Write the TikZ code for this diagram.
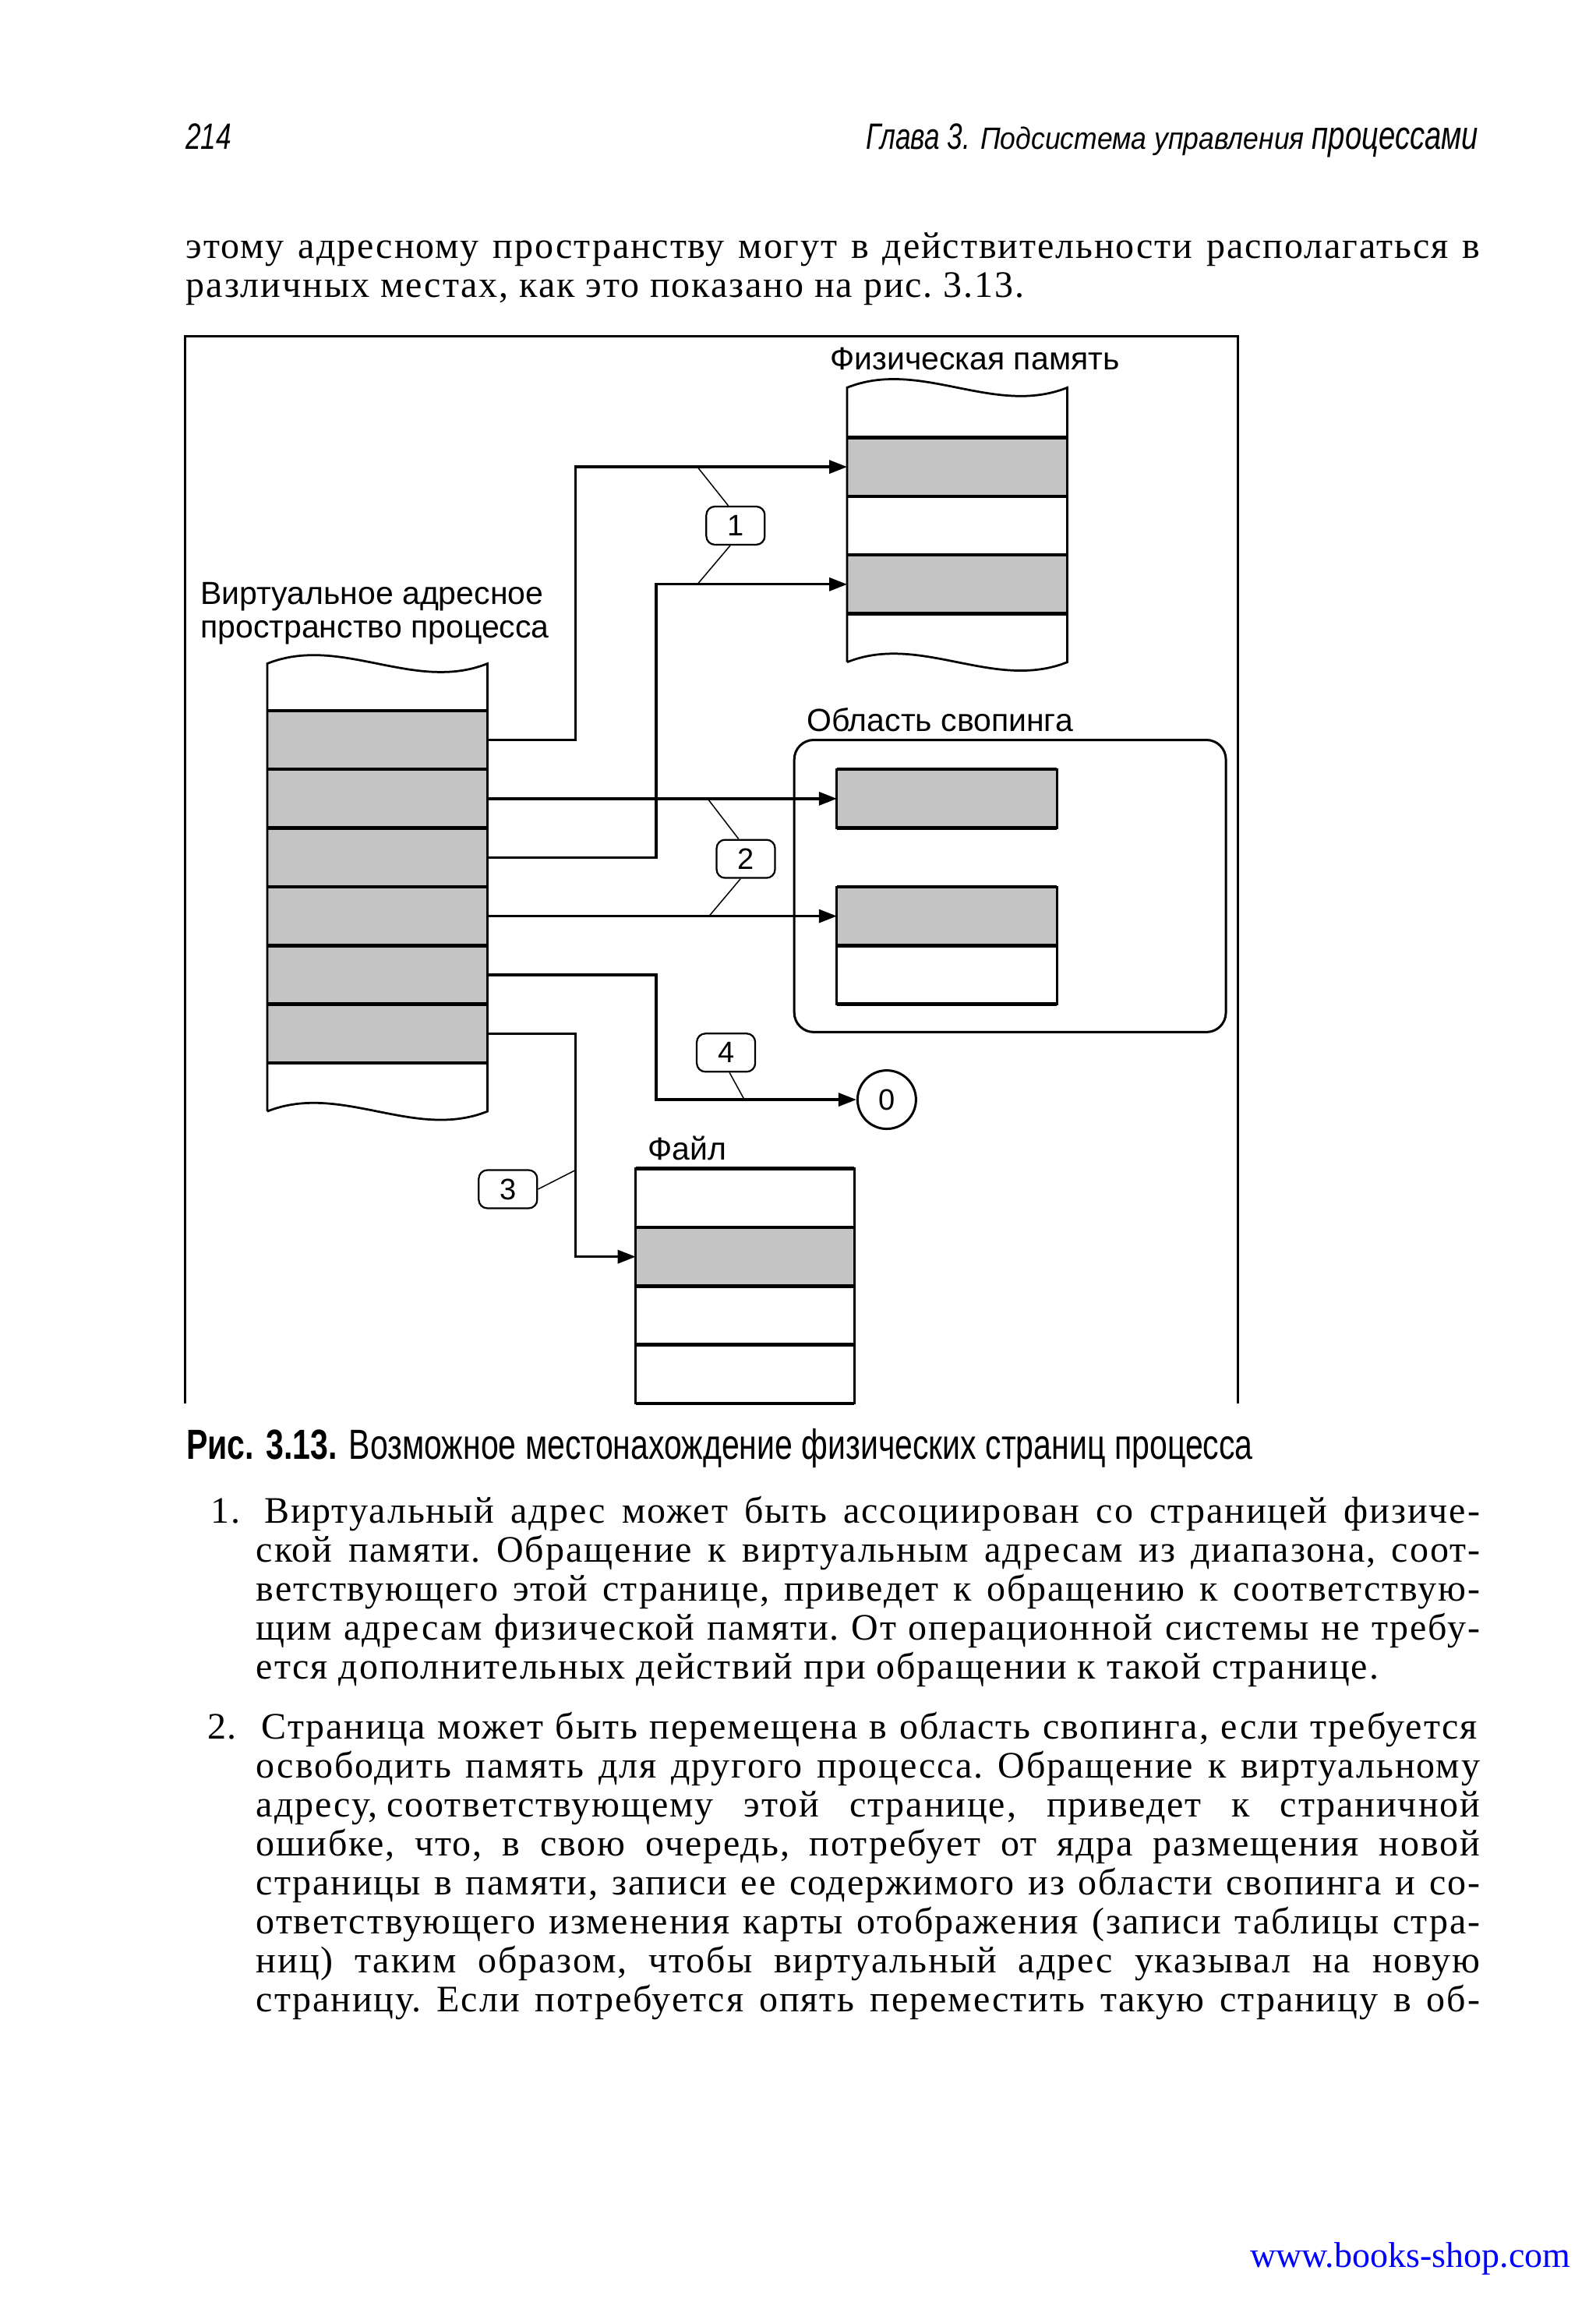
\documentclass[tikz,border=0pt]{standalone}
\usepackage{fontspec}
\setmainfont{Liberation Serif}
\newfontfamily\bodyserif{Liberation Serif}[LetterSpace=4]
\newfontfamily\figsans{Liberation Sans}
\newfontfamily\capsans{Liberation Sans}[FakeStretch=0.76]
\newfontfamily\headsans{Liberation Sans}[FakeStretch=0.75]
\newfontfamily\headsmall{Liberation Sans}[FakeStretch=0.9]
\usepackage{xcolor}
\usetikzlibrary{arrows.meta,positioning,calc}
\definecolor{cellgray}{gray}{0.77}
\definecolor{urlblue}{rgb}{0,0,1}
\newlength\fullw \setlength\fullw{332pt}
\newlength\itemw \setlength\itemw{314.1pt}
\newlength\firstw \setlength\firstw{312pt}
\tikzset{
  frameline/.style={line width=0.6pt},
  colline/.style={line width=0.55pt},
  rowline/.style={line width=0.9pt},
  link/.style={line width=0.65pt,-{Triangle[length=4.6pt,width=3.4pt]}},
  leader/.style={line width=0.3pt},
  callout/.style={draw,line width=0.45pt,rounded corners=2.2pt,minimum width=15pt,
                  minimum height=9.8pt,inner sep=0pt,font=\figsans\fontsize{7.6}{8}\selectfont},
  zero/.style={draw,circle,line width=0.6pt,minimum size=15pt,inner sep=0pt,
               font=\figsans\fontsize{7.6}{8}\selectfont},
  figtext/.style={inner sep=0pt,font=\figsans\fontsize{8.2}{8.7}\selectfont},
  bodytext/.style={anchor=base west,inner sep=0pt,font=\bodyserif\frenchspacing\fontsize{9.6}{10}\selectfont},
  headtext/.style={inner sep=0pt,font=\headsans\itshape\fontsize{9.4}{10}\selectfont},
}
\begin{document}
\begin{tikzpicture}[x=0.3768pt,y=-0.3768pt,>=Stealth]
  \fill[white] (0,0) rectangle (1087,1568);
  % running head
  \node[headtext,anchor=base west] (pagenum) at (126,101.4) {214};
  \node[headtext,anchor=base east] (runhead) at (1007.5,101.4)
    {Глава 3. {\headsmall\fontsize{7.9}{8}\selectfont Подсистема управления} {\fontsize{10.2}{10}\selectfont процессами}};
  \node[bodytext] (para1) at (126.3,176)
    {\makebox[\fullw][s]{этому адресному пространству могут в действительности располагаться в}};
  \node[bodytext] (para2) at (126.3,202.5) {различных местах, как это показано на рис.~3.13.};

  % figure frame
  \draw[frameline] (126,956) -- (126,229) -- (843,229) -- (843,956);

  % virtual address space
  \fill[cellgray] (182,484) rectangle (332,724);
  \draw[colline] (182,757) -- (182,452) .. controls (232,432) and (282,472) .. (332,452)
    -- (332,757) .. controls (282,777) and (232,737) .. (182,757);
  \foreach \y in {484,524,...,724} \draw[rowline] (182,\y) -- (332,\y);
  \node[figtext,anchor=south west,align=left,text depth=0pt] (vlabel) at (136,435)
    {Виртуальное адресное\\пространство процесса};

  % physical memory
  \fill[cellgray] (577,298) rectangle (727,338);
  \fill[cellgray] (577,378) rectangle (727,418);
  \draw[colline] (577,451) -- (577,264) .. controls (627,244) and (677,284) .. (727,264)
    -- (727,451) .. controls (677,471) and (627,431) .. (577,451);
  \foreach \y in {298,338,378,418} \draw[rowline] (577,\y) -- (727,\y);
  \node[figtext,anchor=base] (plabel) at (664,252) {Физическая память};

  % swap area
  \draw[line width=0.6pt,rounded corners=5pt] (541,504) rectangle (835,703);
  \node[figtext,anchor=base west] (slabel) at (549,498) {Область свопинга};
  \fill[cellgray] (570,524) rectangle (720,564);
  \draw[colline] (570,524) rectangle (720,564);
  \fill[cellgray] (570,604) rectangle (720,644);
  \draw[colline] (570,604) rectangle (720,684);
  \foreach \y in {524,564,604,644,684} \draw[rowline] (570,\y) -- (720,\y);

  % file
  \fill[cellgray] (433,836) rectangle (582,876);
  \draw[colline] (433,796) rectangle (582,956);
  \foreach \y in {796,836,876,916,956} \draw[rowline] (433,\y) -- (582,\y);
  \node[figtext,anchor=base west] (flabel) at (441,790) {Файл};

  % pages and targets
  \foreach \i in {1,...,6} \coordinate (v\i) at (332,464+40*\i);
  \coordinate (p1) at (577,318);
  \coordinate (p2) at (577,398);
  \coordinate (s1) at (570,544);
  \coordinate (s2) at (570,624);
  \coordinate (f1) at (433,856);
  \coordinate (railA) at (392,0);
  \coordinate (railB) at (447,0);
  \node[zero] (zero) at (604,749) {0};

  \draw[link] (v1) -- (v1 -| railA) |- (p1);
  \draw[link] (v3) -- (v3 -| railB) |- (p2);
  \draw[link] (v2) -- (s1);
  \draw[link] (v4) -- (s2);
  \draw[link] (v5) -- (v5 -| railB) |- (zero.west);
  \draw[link] (v6) -- (v6 -| railA) |- (f1);

  % callouts
  \node[callout] (c1) at (501,358) {1};
  \node[callout] (c2) at (508,585) {2};
  \node[callout] (c4) at (494.5,717) {4};
  \node[callout] (c3) at (346,810) {3};
  \coordinate (l1a) at (475,318);
  \coordinate (l1b) at (475,398);
  \coordinate (l2a) at (482,544);
  \coordinate (l2b) at (483,624);
  \coordinate (l4) at (507,749);
  \coordinate (l3) at (392,797);
  \draw[leader] (c1.110) -- (l1a);
  \draw[leader] (c1.255) -- (l1b);
  \draw[leader] (c2.110) -- (l2a);
  \draw[leader] (c2.255) -- (l2b);
  \draw[leader] (c4.280) -- (l4);
  \draw[leader] (c3.east) -- (l3);

  % caption
  \node[anchor=base west,inner sep=0pt,font=\capsans\fontsize{10.8}{12}\selectfont] (caption) at (126.5,994)
    {\textbf{Рис. 3.13.} Возможное местонахождение физических страниц процесса};

  % item 1
  \node[bodytext] (num1) at (143,1037.6) {1.};
  \node[bodytext] (it1a) at (179.5,1037.6)
    {\makebox[\firstw][s]{Виртуальный адрес может быть ассоциирован со страницей физиче-}};
  \node[bodytext] (it1b) at (174,1064.1)
    {\makebox[\itemw][s]{ской памяти. Обращение к виртуальным адресам из диапазона, соот-}};
  \node[bodytext] (it1c) at (174,1090.6)
    {\makebox[\itemw][s]{ветствующего этой странице, приведет к обращению к соответствую-}};
  \node[bodytext] (it1d) at (174,1117.1)
    {\makebox[\itemw][s]{щим адресам физической памяти. От операционной системы не требу-}};
  \node[bodytext] (it1e) at (174,1143.6)
    {ется дополнительных действий при обращении к такой странице.};

  % item 2
  \node[bodytext] (num2) at (140.7,1184.5) {2.};
  \node[bodytext] (it2a) at (177.8,1184.5)
    {\makebox[\firstw][s]{Страница может быть перемещена в область свопинга, если требуется}};
  \node[bodytext] (it2b) at (174,1211)
    {\makebox[\itemw][s]{освободить память для другого процесса. Обращение к виртуальному}};
  \node[bodytext] (it2c) at (174,1237.5)
    {\makebox[\itemw][s]{адресу,\hspace{0.25em}соответствующему этой странице, приведет к страничной}};
  \node[bodytext] (it2d) at (174,1264)
    {\makebox[\itemw][s]{ошибке, что, в свою очередь, потребует от ядра размещения новой}};
  \node[bodytext] (it2e) at (174,1290.5)
    {\makebox[\itemw][s]{страницы в памяти, записи ее содержимого из области свопинга и со-}};
  \node[bodytext] (it2f) at (174,1317)
    {\makebox[\itemw][s]{ответствующего изменения карты отображения (записи таблицы стра-}};
  \node[bodytext] (it2g) at (174,1343.5)
    {\makebox[\itemw][s]{ниц) таким образом, чтобы виртуальный адрес указывал на новую}};
  \node[bodytext] (it2h) at (174,1370)
    {\makebox[\itemw][s]{страницу. Если потребуется опять переместить такую страницу в об-}};

  \node[anchor=base west,inner sep=0pt,text=urlblue,font=\fontsize{9.2}{10}\selectfont] (url)
    at (851,1544.6) {www.books-shop.com};
\end{tikzpicture}
\end{document}
